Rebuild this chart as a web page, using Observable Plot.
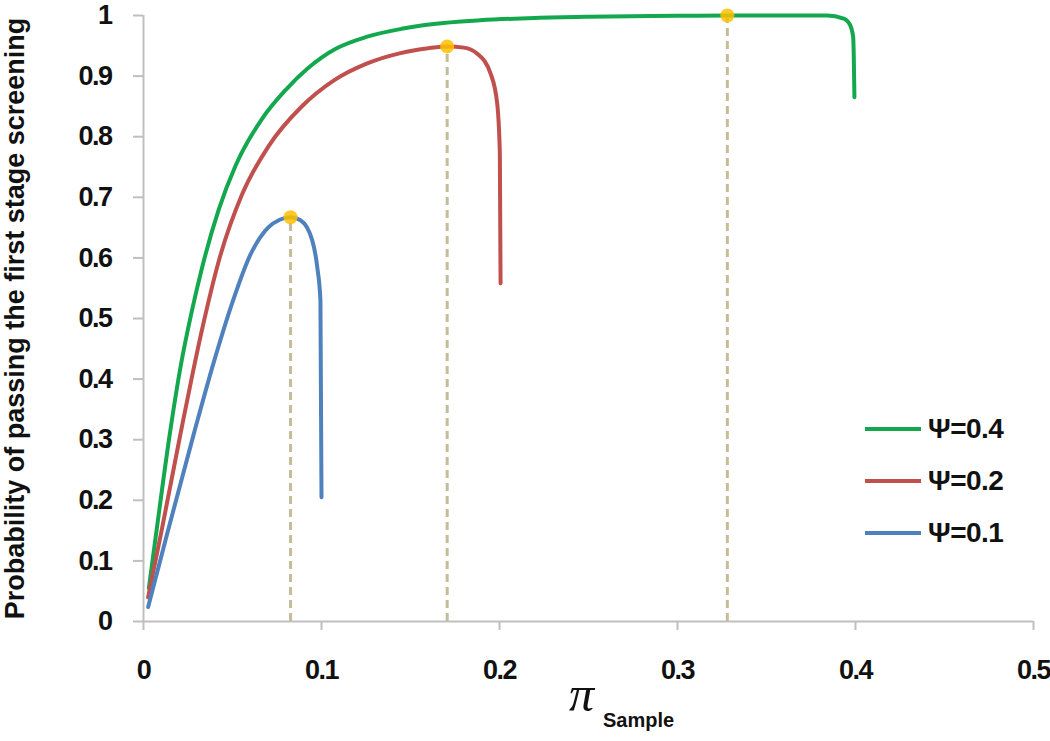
<!DOCTYPE html>
<html><head><meta charset="utf-8">
<script src="https://cdn.jsdelivr.net/npm/d3@7"></script>
<script src="https://cdn.jsdelivr.net/npm/@observablehq/plot@0.6"></script>
<style>
body{margin:0;background:#fff;}
#wrap{position:relative;width:1050px;height:741px;font-family:"Liberation Sans",Arial,sans-serif;}
#wrap svg{display:block;}
#wrap svg g[aria-label="x-axis tick label"], #wrap svg g[aria-label="y-axis tick label"]{letter-spacing:-1.5px;}
.leg{position:absolute;left:865px;display:flex;align-items:center;font-weight:bold;font-size:28px;color:#111;line-height:1;letter-spacing:-0.5px;}
.leg i{display:inline-block;width:56px;height:4px;margin-right:7px;}
#pi{position:absolute;left:569px;top:669px;font-family:"Liberation Serif",serif;font-style:italic;font-size:50px;line-height:1;color:#111;}
#sub{position:absolute;left:603px;top:710px;font-weight:bold;font-size:20px;line-height:1;color:#111;}
</style></head><body><div id="wrap"></div>
<script>
// Series: Ψ = 0.4 (green)
const green_x = [0.003, 0.0071, 0.0148, 0.0208, 0.027, 0.033, 0.0423, 0.0517, 0.0667, 0.0798, 0.092, 0.108, 0.1257, 0.145, 0.163, 0.189, 0.22, 0.25, 0.3, 0.328, 0.36, 0.384, 0.3934, 0.397, 0.3987, 0.399, 0.3994];
const green_p = [0.055, 0.145, 0.31, 0.42, 0.51, 0.585, 0.68, 0.752, 0.83, 0.877, 0.912, 0.945, 0.965, 0.978, 0.986, 0.992, 0.996, 0.998, 0.9995, 1.0, 1.0, 1.0, 0.995, 0.984, 0.964, 0.937, 0.865];
// Series: Ψ = 0.2 (red)
const red_x = [0.0026, 0.0105, 0.0208, 0.0273, 0.0339, 0.0423, 0.0554, 0.0704, 0.0886, 0.107, 0.1257, 0.1444, 0.16, 0.1706, 0.18, 0.1875, 0.195, 0.1987, 0.2002, 0.2006];
const red_p = [0.04, 0.155, 0.31, 0.405, 0.495, 0.595, 0.705, 0.785, 0.849, 0.893, 0.921, 0.938, 0.946, 0.949, 0.947, 0.937, 0.904, 0.855, 0.772, 0.558];
// Series: Ψ = 0.1 (blue)
const blue_x = [0.0026, 0.0133, 0.0283, 0.0395, 0.05, 0.06, 0.07, 0.0765, 0.0826, 0.0882, 0.0948, 0.0976, 0.0994, 0.1];
const blue_p = [0.024, 0.145, 0.31, 0.428, 0.527, 0.605, 0.65, 0.663, 0.667, 0.662, 0.629, 0.585, 0.53, 0.205];

const seriesNames = ["Ψ=0.4", "Ψ=0.2", "Ψ=0.1"];
const seriesColors = ["#14a84e", "#c0504d", "#4f81bd"];
// Optimal points (peaks)
const peak_x = [0.0826, 0.1706, 0.328];
const peak_p = [0.667, 0.949, 1.0];

const xTicks = [0, 0.1, 0.2, 0.3, 0.4, 0.5];
const yTicks = [0, 0.1, 0.2, 0.3, 0.4, 0.5, 0.6, 0.7, 0.8, 0.9, 1];
const yTitle = "Probability of passing the first stage screening";

const xs = [green_x, red_x, blue_x], ps = [green_p, red_p, blue_p];
const lineData = seriesNames.flatMap((n, i) => xs[i].map((x, j) => ({name: n, color: seriesColors[i], x, p: ps[i][j]})));
const peaks = peak_x.map((x, i) => ({x, p: peak_p[i]}));

const axisGray = "#bfbfbf";
const chart = Plot.plot({
  width: 1050, height: 741,
  marginLeft: 143, marginRight: 17, marginTop: 15, marginBottom: 120,
  x: {domain: [0, 0.5]},
  y: {domain: [0, 1]},
  style: {fontFamily: "'Liberation Sans', Arial, sans-serif", fontWeight: "bold", color: "#111", background: "white"},
  marks: [
    Plot.axisY(yTicks, {tickSize: 10, tickPadding: 22, stroke: axisGray, strokeWidth: 2, fontSize: 27, label: null, tickFormat: d => String(d)}),
    Plot.axisX(xTicks, {tickSize: 9, tickPadding: 29, stroke: axisGray, strokeWidth: 2, fontSize: 27, label: null, tickFormat: d => String(d)}),
    Plot.ruleX([0], {stroke: axisGray, strokeWidth: 2}),
    Plot.ruleY([0], {stroke: axisGray, strokeWidth: 2}),
    Plot.text([yTitle], {frameAnchor: "left", textAnchor: "middle", rotate: -90, dx: -128, fontSize: 27, fontWeight: "bold", fill: "#111"}),
    Plot.ruleX(peaks, {x: "x", y1: 0, y2: "p", stroke: "#c4bd97", strokeWidth: 3, strokeDasharray: "8,5"}),
    Plot.line(lineData, {x: "x", y: "p", z: "name", stroke: "color", strokeWidth: 4, curve: "monotone-x"}),
    Plot.dot(peaks, {x: "x", y: "p", r: 7, fill: "#ffc000", fillOpacity: 0.85, stroke: "none"})
  ]
});
const wrap = document.getElementById("wrap");
wrap.appendChild(chart);
const legTops = [415, 467, 519];
seriesNames.forEach((n, i) => {
  const d = document.createElement("div");
  d.className = "leg";
  d.style.top = legTops[i] + "px";
  d.innerHTML = `<i style="background:${seriesColors[i]}"></i><span>${n}</span>`;
  wrap.appendChild(d);
});
const pi = document.createElement("div"); pi.id = "pi"; pi.textContent = "π"; wrap.appendChild(pi);
const sub = document.createElement("div"); sub.id = "sub"; sub.textContent = "Sample"; wrap.appendChild(sub);
</script></body></html>
